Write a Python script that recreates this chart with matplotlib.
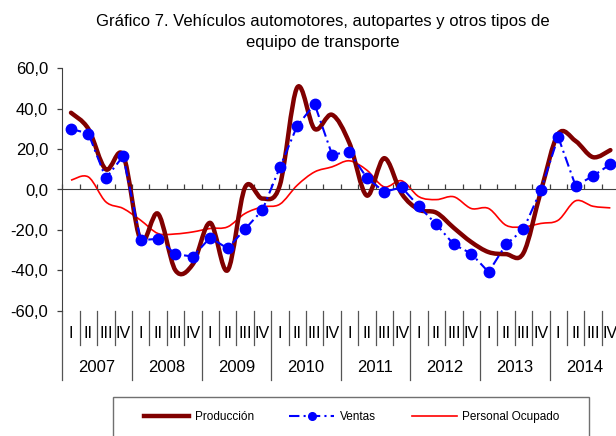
import numpy as np
import matplotlib
matplotlib.use("Agg")
import matplotlib.pyplot as plt
from matplotlib.path import Path
from matplotlib.patches import PathPatch, Rectangle
from matplotlib.lines import Line2D
from matplotlib import font_manager

# datos (variación % anual, trimestral 2007-2014)
years = ["2007", "2008", "2009", "2010", "2011", "2012", "2013", "2014"]
quarters = ["I", "II", "III", "IV"]

produccion = [38, 30, 10, 17, -25, -12, -40, -37,
              -16.5, -40, 1, -4.5, 2, 50.5, 30, 37,
              23, -3, 15.5, -2, -10, -11.5, -19, -26,
              -31, -32, -31.5, -1, 27.5, 24, 16, 19.5]
ventas = [30, 27.7, 5.6, 16.5, -25.1, -24.4, -32, -33.2,
          -23.8, -29.2, -19.6, -10.2, 10.9, 31.5, 42.3, 17.3,
          18.6, 5.8, -1.2, 1.1, -8.4, -17.3, -27.2, -31.7,
          -40.9, -27.2, -19.8, -0.3, 26, 1.8, 6.7, 12.5]
personal = [4.6, 6.2, -6.1, -9.4, -15.2, -21.8, -22, -21,
            -19.3, -18.5, -11.9, -8.6, -7.3, 2.1, 8.7, 11.2,
            14.2, 9.6, 1.3, 4.3, -3.6, -5, -3.6, -9.4,
            -9.4, -17.7, -18.5, -16.8, -15.2, -5.6, -8.3, -9.1]

yticks = [-60, -40, -20, 0, 20, 40, 60]

plt.rcParams['font.family'] = ['Liberation Sans', 'DejaVu Sans']


def smooth_path(x, y):
    # curva suavizada tipo Excel (Catmull-Rom como Bezier cubica)
    pts = np.column_stack([x, y]).astype(float)
    n = len(pts)
    verts = [pts[0]]
    codes = [Path.MOVETO]
    for i in range(n - 1):
        p0 = pts[i - 1] if i > 0 else pts[i]
        p1 = pts[i]
        p2 = pts[i + 1]
        p3 = pts[i + 2] if i + 2 < n else pts[i + 1]
        verts += [p1 + (p2 - p0) / 6.0, p2 - (p3 - p1) / 6.0, p2]
        codes += [Path.CURVE4] * 3
    return Path(verts, codes)


def main():
    W, H = 616, 436
    fig = plt.figure(figsize=(W / 100, H / 100), dpi=100)

    step = 17.4
    ax = fig.add_axes([62.3 / W, (H - 310.7) / H, 32 * step / W, 242.4 / H])

    x = np.arange(len(ventas))

    ax.add_patch(PathPatch(smooth_path(x, personal), facecolor="none",
                           edgecolor="#ff0000", lw=1.2, zorder=2))
    ax.add_patch(PathPatch(smooth_path(x, produccion), facecolor="none",
                           edgecolor="#800000", lw=3.2, capstyle="round",
                           joinstyle="round", zorder=3))
    ax.plot(x, ventas, color="#0000ff", lw=1.5, linestyle=(0, (5, 2, 1, 2)),
            marker="o", markersize=7.5, markeredgecolor="#0000ff", zorder=4)

    ax.set_xlim(-0.5, 31.5)
    ax.set_ylim(-60, 60)
    ax.set_yticks(yticks)
    ax.set_yticklabels([("%.1f" % v).replace(".", ",") for v in yticks])

    axcol = "#404040"
    for s in ["top", "right"]:
        ax.spines[s].set_visible(False)
    ax.spines["left"].set_color(axcol)
    ax.spines["bottom"].set_position(("data", 0))
    ax.spines["bottom"].set_color(axcol)
    ax.tick_params(axis="y", direction="out", length=3.6, width=0.9,
                   color=axcol, labelsize=12, pad=6.5)
    ax.set_xticks(np.arange(-0.5, 32, 1))
    ax.tick_params(axis="x", direction="in", length=3.6, width=0.9,
                   color=axcol, labelbottom=False)

    # etiquetas de categorias (trimestre / año) debajo del area
    tr = ax.get_xaxis_transform()
    sepcol = "#555555"
    for k in range(len(x)):
        ax.text(k, -0.092, quarters[k % 4], transform=tr, ha="center",
                va="center", fontsize=11.5)
    for j, yr in enumerate(years):
        ax.text(4 * j + 1.5, -0.236, yr, transform=tr, ha="center",
                va="center", fontsize=12)
    for b in range(33):
        bottom = -0.286 if b % 4 == 0 else -0.1415
        ax.plot([b - 0.5, b - 0.5], [0, bottom], transform=tr, color=sepcol,
                lw=0.9, clip_on=False)

    fig.text(323 / W, 1 - 32 / H,
             "Gráfico 7. Vehículos automotores, autopartes y otros tipos de\n"
             "equipo de transporte",
             ha="center", va="center", fontsize=12, linespacing=1.45)

    # leyenda
    try:
        font_manager.findfont("Liberation Sans Narrow", fallback_to_default=False)
        leg_font = {"family": "Liberation Sans Narrow", "size": 10}
    except ValueError:
        leg_font = {"family": "Liberation Sans", "size": 8.5}

    fig.patches.append(Rectangle((113 / W, -4 / H), 476 / W, 43 / H,
                                 transform=fig.transFigure, facecolor="none",
                                 edgecolor="#707070", lw=1.0))
    handles = [
        Line2D([], [], color="#800000", lw=3.2),
        Line2D([], [], color="#0000ff", lw=1.5, linestyle=(0, (5, 2, 1, 2)),
               marker="o", markersize=5.5),
        Line2D([], [], color="#ff0000", lw=1.2),
    ]
    fig.legend(handles, ["Producción", "Ventas", "Personal Ocupado"],
               loc="center", bbox_to_anchor=(352 / W, (H - 416.7) / H),
               ncol=3, frameon=False, prop=leg_font, numpoints=1,
               handlelength=3.8, handletextpad=0.5, columnspacing=3.0)

    fig.savefig("out.png", dpi=100)


if __name__ == "__main__":
    main()
